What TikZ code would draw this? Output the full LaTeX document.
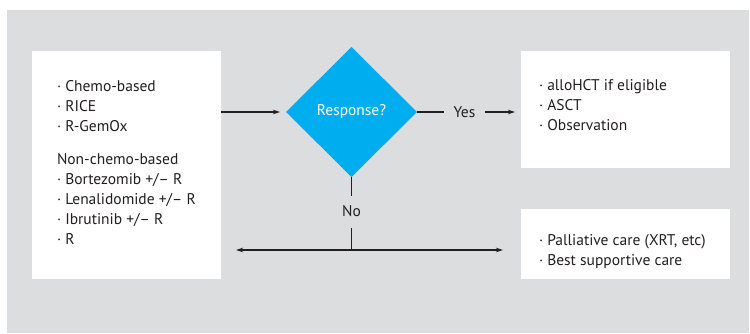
\documentclass[tikz,border=0pt]{standalone}
\usepackage{fontspec}
\setmainfont{PT Sans}
\usetikzlibrary{shapes.geometric,arrows.meta}
\definecolor{panelgray}{HTML}{DCDDDF}
\definecolor{respblue}{HTML}{00AEEF}
\definecolor{inkgray}{HTML}{231F20}
\begin{document}
\begin{tikzpicture}[x=1pt,y=1pt,
    every node/.style={inner sep=0pt,outer sep=0pt,text=inkgray,
      font=\fontsize{15.5}{20}\selectfont},
    box/.style={fill=white,draw=none},
    list/.style={anchor=north west,align=left},
    link/.style={draw=inkgray,line width=1.3pt},
    tip/.style={link,-{Stealth[length=7pt,width=4.5pt]}}]
  \useasboundingbox (0,0) rectangle (750,333);
  \fill[panelgray] (7,0) rectangle (749,323);
  % boxes
  \node[box,minimum width=189,minimum height=228] at(126.5,168)(treat){};
  \node[box,minimum width=209,minimum height=117] at(625.5,223.5)(good){};
  \node[box,minimum width=209,minimum height=70] at(625.5,89)(poor){};
  \node[diamond,fill=respblue,minimum width=131,minimum height=130,
    text=white] at(351.5,221)(resp){\raisebox{-2pt}{Response?}};
  % lists
  \node[list] at([xshift=25pt,yshift=-29.5pt]treat.north west)(treatlist)
    {· Chemo-based\\ · RICE\\ · R-GemOx\\[13pt]
     Non-chemo-based\\ · Bortezomib +/– R\\ · Lenalidomide +/– R\\
     · Ibrutinib +/– R\\ · R};
  \node[list] at([xshift=18pt,yshift=-28pt]good.north west)(goodlist)
    {· alloHCT if eligible\\ · ASCT\\ · Observation};
  \node[list] at([xshift=18pt,yshift=-25pt]poor.north west)(poorlist)
    {· Palliative care (XRT, etc)\\ · Best supportive care};
  % connectors
  \draw[tip,shorten >=6pt] (treat.east |- resp.west) -- (resp.west);
  \node at(464.5,221)(yeslbl){Yes};
  \draw[link,shorten >=10pt] (resp.east) -- (yeslbl.west);
  \draw[tip,shorten <=10pt,shorten >=6pt]
    (yeslbl.east) -- (good.west |- yeslbl.east);
  \node at(351.5,122)(nolbl){No};
  \coordinate (split) at(351.5,83);
  \draw[link,shorten >=9pt] (resp.south) -- (nolbl.north);
  \draw[link,shorten <=11pt] (nolbl.south) -- (split);
  \draw[tip,shorten >=15pt] (split) -- (split -| treat.east);
  \draw[tip,shorten >=18pt] (split) -- (split -| poor.west);
\end{tikzpicture}
\end{document}
